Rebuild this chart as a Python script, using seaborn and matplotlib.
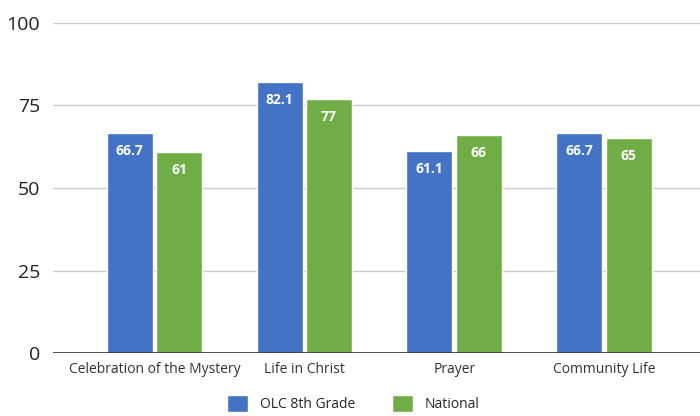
import pandas as pd
import matplotlib.pyplot as plt
import seaborn as sns

categories = ["Celebration of the Mystery", "Life in Christ", "Prayer", "Community Life"]
olc = [66.7, 82.1, 61.1, 66.7]
national = [61, 77, 66, 65]
series = ["OLC 8th Grade", "National"]
colors = ["#4472C4", "#70AD47"]

df = pd.DataFrame({
    "category": categories * 2,
    "group": [series[0]] * 4 + [series[1]] * 4,
    "score": olc + national,
})

sns.set_theme(style="white")
plt.rcParams['font.family'] = ['Open Sans', 'DejaVu Sans']

fig = plt.figure(figsize=(7, 4.16), dpi=100)
ax = fig.add_axes([0.075, 0.151, 0.925, 0.794])

sns.barplot(data=df, x="category", y="score", hue="group", palette=colors,
            width=0.66, gap=0.07, ax=ax, saturation=1, legend=True)

for cont in ax.containers:
    ax.bar_label(cont, fmt="{:g}", padding=-18, color="white",
                 fontsize=10, fontweight="bold")

ax.set_ylim(0, 100)
ax.set_xlim(-0.68, 3.64)
ax.set_yticks([0, 25, 50, 75, 100])
ax.yaxis.grid(True, color="#cccccc", linewidth=1)
ax.set_axisbelow(True)
ax.axhline(0, color="#333333", linewidth=1.2)
for s in ax.spines.values():
    s.set_visible(False)
ax.set_xlabel("")
ax.set_ylabel("")
ax.tick_params(axis="y", labelsize=14, labelcolor="#222222", length=0, pad=9)
ax.tick_params(axis="x", labelsize=10, labelcolor="#333333", length=0, pad=6)

handles, labels = ax.get_legend_handles_labels()
ax.legend_.remove()
fig.legend(handles, labels, loc="center", bbox_to_anchor=(0.505, 0.03), ncol=2,
           frameon=False, fontsize=10, handlelength=1.5, handleheight=1.5,
           columnspacing=2.6, handletextpad=0.9)

fig.savefig("out.png", dpi=100)
